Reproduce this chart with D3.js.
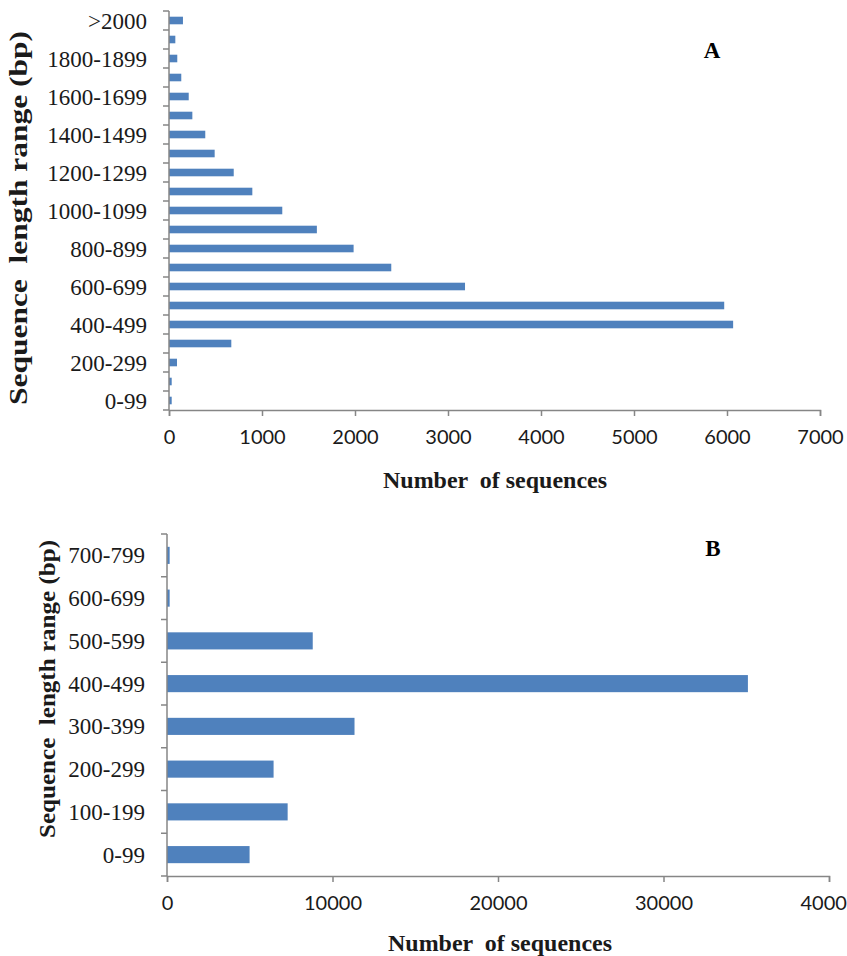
<!DOCTYPE html>
<html>
<head>
<meta charset="utf-8">
<script src="https://cdn.jsdelivr.net/npm/d3@7"></script>
<style>
  html, body { margin: 0; padding: 0; background: #fff; overflow: hidden; }
  svg { display: block; }
</style>
</head>
<body>
<svg id="chart" width="847" height="956"></svg>
<script>
// Panel A: length distribution of sequences (21 ranges)
const catsA = ["0-99","100-199","200-299","300-399","400-499","500-599","600-699","700-799",
  "800-899","900-999","1000-1099","1100-1199","1200-1299","1300-1399","1400-1499",
  "1500-1599","1600-1699","1700-1799","1800-1899","1900-1999",">2000"];
const valsA = [29, 29, 86, 670, 6066, 5970, 3183, 2390, 1985, 1590, 1218, 896, 696, 491, 390,
  251, 212, 132, 89, 68, 150];
const ticksA = [0, 1000, 2000, 3000, 4000, 5000, 6000, 7000];

// Panel B: length distribution (8 ranges)
const catsB = ["0-99","100-199","200-299","300-399","400-499","500-599","600-699","700-799"];
const valsB = [4990, 7290, 6440, 11330, 35100, 8806, 160, 160];
const ticksB = [0, 10000, 20000, 30000, 40000];

const BAR = "#4F81BD", AXIS = "#868686";
const SERIF = "'Liberation Serif', 'Times New Roman', serif";
const SANS = "Lato, 'Liberation Sans', sans-serif";

const svg = d3.select("#chart");

function panel(cfg) {
  const g = svg.append("g");
  const x = d3.scaleLinear().domain([0, cfg.max]).range([cfg.left, cfg.right]);
  const y = d3.scaleBand().domain(cfg.cats).range([cfg.bottom, cfg.top])
    .paddingInner(0.6).paddingOuter(0.3);

  // bars
  g.selectAll("rect.bar").data(cfg.cats).join("rect")
    .attr("class", "bar")
    .attr("x", x(0))
    .attr("y", d => y(d))
    .attr("width", (d, i) => x(cfg.vals[i]) - x(0))
    .attr("height", y.bandwidth())
    .attr("fill", BAR);

  // category axis: ticks on category boundaries
  const step = y.step();
  const bounds = d3.range(cfg.cats.length + 1).map(i => cfg.bottom - i * step);
  g.append("line").attr("x1", x(0)).attr("x2", x(0))
    .attr("y1", cfg.top).attr("y2", cfg.bottom)
    .attr("stroke", AXIS).attr("stroke-width", 1.5);
  g.selectAll("line.ytick").data(bounds).join("line")
    .attr("class", "ytick")
    .attr("x1", x(0) - 6).attr("x2", x(0))
    .attr("y1", d => d).attr("y2", d => d)
    .attr("stroke", AXIS).attr("stroke-width", 1.5);
  g.selectAll("text.ylab").data(cfg.cats.filter((c, i) => i % cfg.labelEvery === 0)).join("text")
    .attr("class", "ylab")
    .attr("x", x(0) - 22)
    .attr("y", d => y(d) + y.bandwidth() / 2)
    .attr("dy", "0.35em")
    .attr("text-anchor", "end")
    .attr("font-family", SERIF)
    .attr("font-size", cfg.ylabSize)
    .attr("fill", "#1a1a1a")
    .text(d => d);

  // value axis
  const xAxis = d3.axisBottom(x).tickValues(cfg.ticks).tickSize(6).tickPadding(14)
    .tickFormat(d3.format("d"));
  const ax = g.append("g").attr("transform", `translate(0,${cfg.bottom})`).call(xAxis);
  ax.select(".domain").attr("stroke", AXIS).attr("stroke-width", 1.5);
  ax.selectAll(".tick line").attr("stroke", AXIS).attr("stroke-width", 1.5);
  ax.selectAll(".tick text").attr("font-family", SANS).attr("font-size", 20).attr("fill", "#1a1a1a");

  // titles
  g.append("text")
    .attr("x", cfg.xTitleX).attr("y", cfg.xTitleY)
    .attr("text-anchor", "middle")
    .attr("font-family", SERIF).attr("font-weight", "bold").attr("font-size", 23)
    .attr("fill", "#1a1a1a")
    .attr("xml:space", "preserve")
    .attr("textLength", 224).attr("lengthAdjust", "spacingAndGlyphs")
    .text("Number  of sequences");
  g.append("text")
    .attr("transform", `translate(${cfg.yTitleX},${cfg.yTitleY}) rotate(-90)`)
    .attr("text-anchor", "middle")
    .attr("font-family", SERIF).attr("font-weight", "bold").attr("font-size", cfg.yTitleSize)
    .attr("fill", "#1a1a1a")
    .attr("xml:space", "preserve")
    .attr("textLength", cfg.yTitleLen).attr("lengthAdjust", "spacingAndGlyphs")
    .text("Sequence  length range (bp)");
  g.append("text")
    .attr("x", cfg.tagX).attr("y", cfg.tagY)
    .attr("text-anchor", "middle")
    .attr("font-family", SERIF).attr("font-weight", "bold").attr("font-size", 23)
    .attr("fill", "#000")
    .text(cfg.tag);
}

panel({
  cats: catsA, vals: valsA, ticks: ticksA, max: 7000,
  left: 169, right: 820, top: 11, bottom: 410,
  labelEvery: 2, ylabSize: 23,
  xTitleX: 495, xTitleY: 488,
  yTitleX: 27, yTitleY: 218, yTitleSize: 26, yTitleLen: 374,
  tag: "A", tagX: 712, tagY: 58
});

panel({
  cats: catsB, vals: valsB, ticks: ticksB, max: 40000,
  left: 167, right: 829, top: 534, bottom: 876,
  labelEvery: 1, ylabSize: 23,
  xTitleX: 500, xTitleY: 951,
  yTitleX: 55, yTitleY: 689, yTitleSize: 24, yTitleLen: 298,
  tag: "B", tagX: 713, tagY: 556
});
</script>
</body>
</html>
